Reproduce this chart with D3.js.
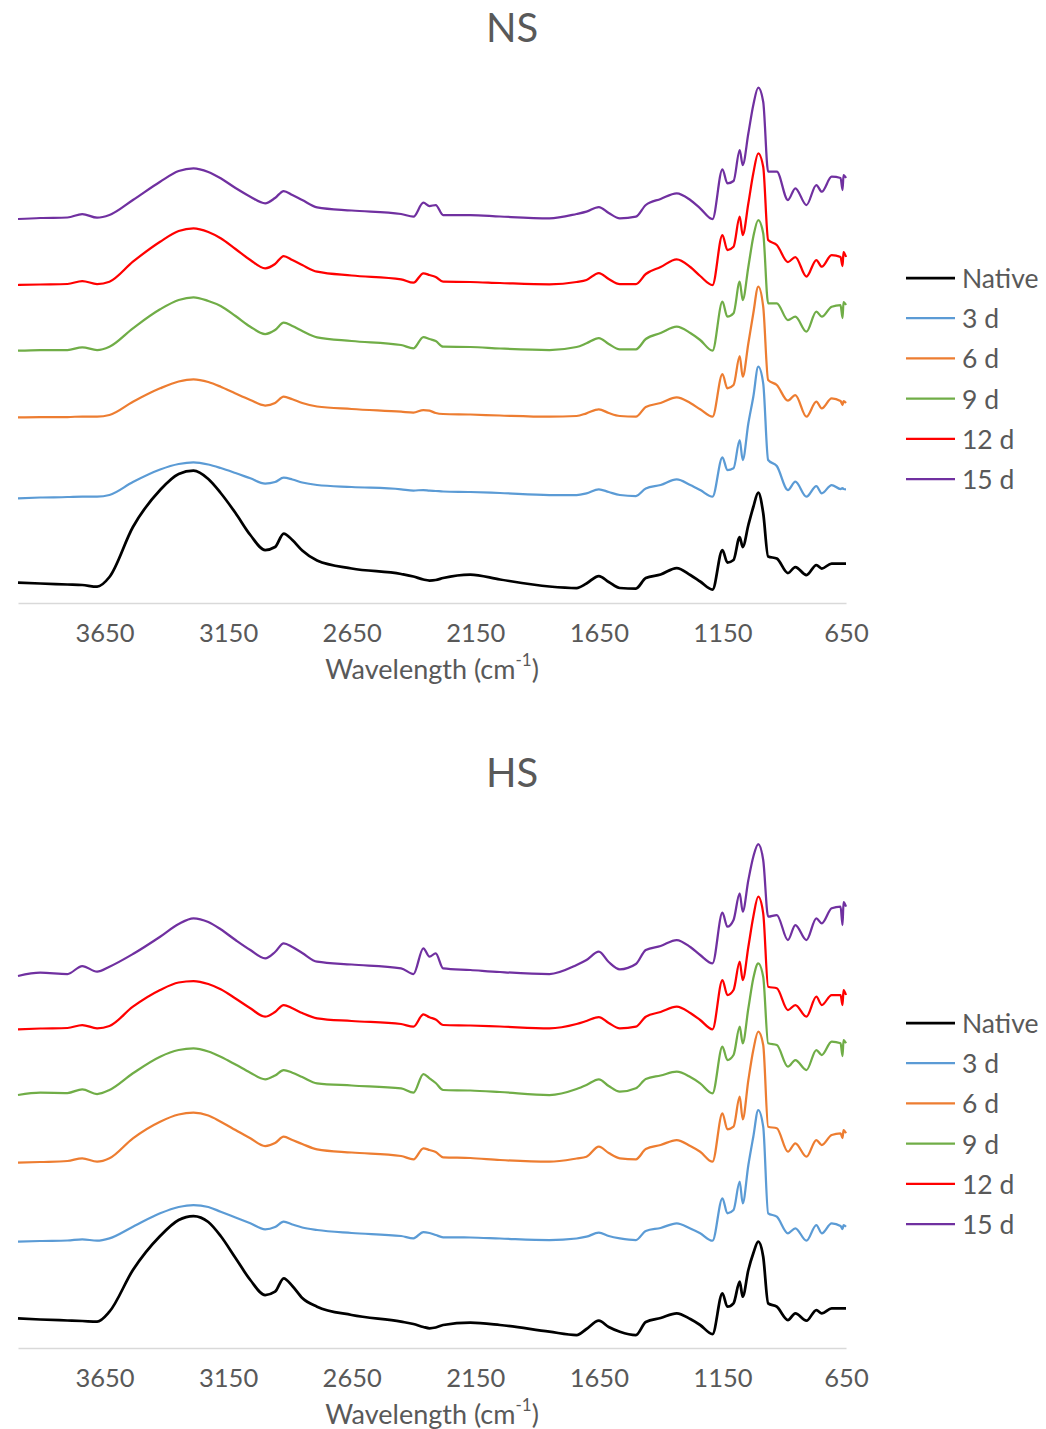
<!DOCTYPE html>
<html lang="en">
<head>
<meta charset="UTF-8">
<title>NS / HS FTIR</title>
<script src="https://cdn.jsdelivr.net/npm/d3@7"></script>
<style>
    body{
        margin:0;
        background:#fff;
        font-family:Lato, "Open Sans", sans-serif;
    }
    .tick text{ fill:#595959; }
    .lbl{ fill:#595959; }
</style>
</head>
<body>
<script>
    // wavenumber grid shared by every trace (cm-1)
    var wavenumbers = [4000,3910,3800,3740,3680,3630,3535,3425,3350,3290,
        3230,3180,3120,3060,3000,2960,2925,2890,2850,2790,
        2650,2450,2400,2360,2335,2310,2280,2170,2050,1850,
        1740,1700,1650,1610,1565,1500,1460,1400,1335,1280,
        1240,1190,1150,1130,1105,1080,1068,1045,1025,1005,
        985,965,930,885,855,810,770,748,708,672,
        664,660,650];

    var seriesNames = ['Native','3 d','6 d','9 d','12 d','15 d'];
    var tickValues = [3650,3150,2650,2150,1650,1150,650];

    // NS panel (offset absorbance)
    var nsNative = [0.203,0.195,0.185,0.18,0.163,0.26,0.76,1.13,1.29,1.323,
        1.24,1.10,0.90,0.68,0.53,0.56,0.695,0.63,0.525,0.425,
        0.345,0.29,0.265,0.235,0.225,0.23,0.25,0.285,0.235,0.165,
        0.15,0.195,0.27,0.21,0.15,0.145,0.25,0.285,0.35,0.28,
        0.215,0.135,0.53,0.405,0.43,0.66,0.56,0.78,0.96,1.105,
        0.90,0.465,0.445,0.30,0.36,0.28,0.38,0.345,0.395,0.395,
        0.395,0.395,0.395];
    var ns3d = [1.047,1.055,1.06,1.065,1.063,1.08,1.21,1.335,1.39,1.407,
        1.385,1.35,1.30,1.247,1.195,1.21,1.253,1.235,1.205,1.18,
        1.16,1.137,1.125,1.13,1.123,1.12,1.115,1.11,1.10,1.08,
        1.08,1.097,1.137,1.11,1.08,1.07,1.145,1.18,1.237,1.18,
        1.13,1.063,1.457,1.33,1.347,1.63,1.43,1.797,2.063,2.363,
        2.197,1.43,1.37,1.13,1.213,1.063,1.17,1.097,1.18,1.14,
        1.15,1.14,1.137];
    var ns6d = [1.857,1.86,1.86,1.865,1.863,1.88,2.013,2.147,2.215,2.237,
        2.21,2.163,2.095,2.03,1.975,2.00,2.063,2.037,2.00,1.965,
        1.94,1.913,1.905,1.93,1.923,1.90,1.89,1.885,1.875,1.863,
        1.87,1.897,1.937,1.90,1.87,1.863,1.96,2.00,2.057,2.00,
        1.937,1.863,2.29,2.147,2.18,2.47,2.263,2.597,2.897,3.163,
        2.963,2.23,2.18,2.023,2.08,1.863,2.013,1.947,2.047,2.02,
        1.98,2.02,2.00];
    var ns9d = [2.523,2.53,2.53,2.557,2.53,2.563,2.747,2.937,3.03,3.057,
        3.02,2.97,2.87,2.763,2.69,2.73,2.803,2.77,2.72,2.657,
        2.62,2.58,2.547,2.66,2.64,2.62,2.563,2.56,2.545,2.53,
        2.56,2.597,2.65,2.59,2.537,2.537,2.64,2.70,2.763,2.70,
        2.63,2.523,3.013,2.863,2.897,3.213,3.03,3.363,3.663,3.83,
        3.697,2.997,2.997,2.83,2.863,2.713,2.913,2.863,2.963,2.98,
        2.85,3.01,2.98];
    var ns12d = [3.18,3.185,3.19,3.22,3.19,3.213,3.413,3.613,3.72,3.747,
        3.71,3.647,3.54,3.43,3.347,3.39,3.47,3.43,3.38,3.313,
        3.275,3.237,3.203,3.297,3.28,3.26,3.213,3.21,3.20,3.187,
        3.21,3.23,3.30,3.24,3.19,3.19,3.29,3.36,3.437,3.36,
        3.27,3.18,3.68,3.53,3.563,3.863,3.68,3.997,4.297,4.497,
        4.363,3.63,3.58,3.41,3.46,3.265,3.43,3.363,3.48,3.46,
        3.37,3.51,3.46];
    var ns15d = [3.84,3.85,3.855,3.89,3.853,3.88,4.03,4.213,4.32,4.347,
        4.31,4.247,4.15,4.063,3.997,4.05,4.12,4.08,4.03,3.957,
        3.925,3.89,3.863,4.003,3.97,3.98,3.88,3.88,3.865,3.847,
        3.89,3.913,3.96,3.90,3.847,3.863,3.98,4.04,4.097,4.03,
        3.947,3.84,4.337,4.197,4.22,4.53,4.38,4.697,4.98,5.153,
        5.013,4.313,4.313,4.03,4.147,3.98,4.18,4.113,4.263,4.25,
        4.13,4.28,4.25];

    // HS panel (offset absorbance)
    var hsNative = [0.297,0.285,0.275,0.27,0.263,0.363,0.78,1.12,1.28,1.32,
        1.26,1.12,0.90,0.68,0.53,0.563,0.697,0.62,0.50,0.413,
        0.33,0.263,0.24,0.21,0.197,0.205,0.23,0.253,0.23,0.163,
        0.13,0.19,0.273,0.21,0.163,0.13,0.26,0.30,0.347,0.29,
        0.23,0.14,0.547,0.413,0.447,0.663,0.513,0.78,0.947,1.063,
        0.913,0.447,0.413,0.28,0.347,0.273,0.38,0.347,0.397,0.397,
        0.397,0.397,0.397];
    var hs3d = [1.063,1.07,1.075,1.087,1.073,1.097,1.213,1.347,1.41,1.43,
        1.41,1.363,1.305,1.247,1.187,1.21,1.263,1.235,1.205,1.18,
        1.15,1.12,1.097,1.16,1.15,1.13,1.107,1.105,1.095,1.08,
        1.095,1.113,1.153,1.12,1.097,1.08,1.17,1.20,1.247,1.195,
        1.147,1.073,1.497,1.347,1.38,1.663,1.447,1.83,2.113,2.38,
        2.213,1.347,1.313,1.147,1.197,1.073,1.23,1.147,1.247,1.22,
        1.19,1.23,1.213];
    var hs6d = [1.853,1.86,1.87,1.897,1.863,1.897,2.097,2.263,2.335,2.353,
        2.325,2.263,2.18,2.097,2.02,2.05,2.113,2.08,2.04,1.987,
        1.955,1.92,1.887,1.997,1.98,1.96,1.907,1.90,1.88,1.863,
        1.895,1.913,2.013,1.95,1.897,1.887,1.99,2.03,2.08,2.02,
        1.963,1.863,2.347,2.187,2.213,2.513,2.287,2.68,2.98,3.163,
        3.03,2.213,2.197,1.963,2.047,1.913,2.08,2.03,2.13,2.147,
        2.10,2.18,2.147];
    var hs9d = [2.53,2.553,2.55,2.587,2.54,2.58,2.747,2.913,2.98,2.997,
        2.965,2.913,2.835,2.753,2.687,2.725,2.78,2.753,2.71,2.647,
        2.625,2.597,2.553,2.74,2.697,2.65,2.58,2.575,2.56,2.53,
        2.59,2.63,2.687,2.62,2.563,2.597,2.69,2.725,2.763,2.71,
        2.647,2.547,3.013,2.88,2.93,3.213,3.047,3.397,3.697,3.847,
        3.713,3.047,3.03,2.813,2.88,2.78,2.98,2.93,3.063,3.047,
        2.92,3.08,3.047];
    var hs12d = [3.187,3.195,3.20,3.23,3.197,3.22,3.413,3.58,3.655,3.67,
        3.64,3.587,3.495,3.397,3.313,3.36,3.43,3.397,3.35,3.297,
        3.27,3.24,3.213,3.337,3.307,3.285,3.23,3.225,3.215,3.197,
        3.24,3.27,3.31,3.25,3.197,3.213,3.313,3.36,3.413,3.35,
        3.28,3.187,3.68,3.53,3.58,3.863,3.68,4.013,4.313,4.513,
        4.347,3.613,3.597,3.38,3.43,3.313,3.513,3.43,3.53,3.53,
        3.43,3.58,3.53];
    var hs15d = [3.72,3.753,3.74,3.82,3.763,3.813,3.94,4.113,4.24,4.297,
        4.26,4.187,4.08,3.98,3.897,3.96,4.047,4.01,3.95,3.863,
        3.835,3.797,3.74,3.997,3.913,3.947,3.797,3.78,3.76,3.74,
        3.83,3.88,3.963,3.86,3.787,3.84,3.98,4.02,4.08,4.01,
        3.93,3.847,4.353,4.213,4.28,4.547,4.363,4.68,4.913,5.04,
        4.88,4.313,4.33,4.08,4.23,4.08,4.297,4.247,4.397,4.413,
        4.23,4.46,4.413];

    var colors = ['#000000','#5B9BD5','#ED7D31','#70AD47','#FF0000','#7030A0'];
    var widths = [2.75,2.25,2.25,2.25,2.25,2.25];

    var width = 1046, height = 1429;
    var svg = d3.select('body').append('svg')
        .attr('width',width)
        .attr('height',height);

    var x = d3.scaleLinear().domain([4000,650]).range([18,846]);

    var panels = [
        {title:'NS', top:0,   series:[nsNative,ns3d,ns6d,ns9d,ns12d,ns15d]},
        {title:'HS', top:745, series:[hsNative,hs3d,hs6d,hs9d,hs12d,hs15d]}
    ];

    panels.forEach(function(p){
        var g = svg.append('g').attr('transform','translate(0,'+p.top+')');
        var y = d3.scaleLinear().domain([0,5.2]).range([603,83]);

        g.append('text')
            .attr('class','lbl')
            .attr('x',512).attr('y',27)
            .attr('text-anchor','middle')
            .attr('dominant-baseline','central')
            .style('font-size','40px')
            .text(p.title);

        //x axis, no tick marks
        var ax = g.append('g')
            .attr('transform','translate(0,603)')
            .call(d3.axisBottom(x).tickValues(tickValues).tickSize(0).tickPadding(21).tickFormat(d3.format('d')));
        ax.select('.domain').attr('stroke','#d9d9d9').attr('stroke-width',1.5);
        ax.selectAll('text').style('font-size','25.5px').style('font-family','Lato, "Open Sans", sans-serif');

        var t = g.append('text')
            .attr('class','lbl')
            .attr('x',432).attr('y',668)
            .attr('text-anchor','middle')
            .attr('dominant-baseline','central')
            .style('font-size','27px');
        t.append('tspan').text('Wavelength (cm');
        t.append('tspan').attr('dy',-9).style('font-size','17px').text('-1');
        t.append('tspan').attr('dy',9).text(')');

        var line = d3.line()
            .x(function(d,i){ return x(wavenumbers[i]); })
            .y(function(d){ return y(d); })
            .curve(d3.curveMonotoneX);

        g.selectAll('.trace')
            .data(p.series)
            .enter().append('path')
            .attr('class','trace')
            .attr('fill','none')
            .attr('stroke',function(d,i){ return colors[i]; })
            .attr('stroke-width',function(d,i){ return widths[i]; })
            .attr('stroke-linejoin','round')
            .attr('d',line);

        //legend
        var lg = g.selectAll('.leg')
            .data(seriesNames)
            .enter().append('g')
            .attr('class','leg')
            .attr('transform',function(d,i){ return 'translate(906,'+(278+i*40.2)+')'; });
        lg.append('line')
            .attr('x1',0).attr('x2',49)
            .attr('stroke',function(d,i){ return colors[i]; })
            .attr('stroke-width',function(d,i){ return widths[i]; });
        lg.append('text')
            .attr('class','lbl')
            .attr('x',56)
            .attr('dominant-baseline','central')
            .style('font-size','26.5px')
            .text(function(d){ return d; });
    });
</script>
</body>
</html>
